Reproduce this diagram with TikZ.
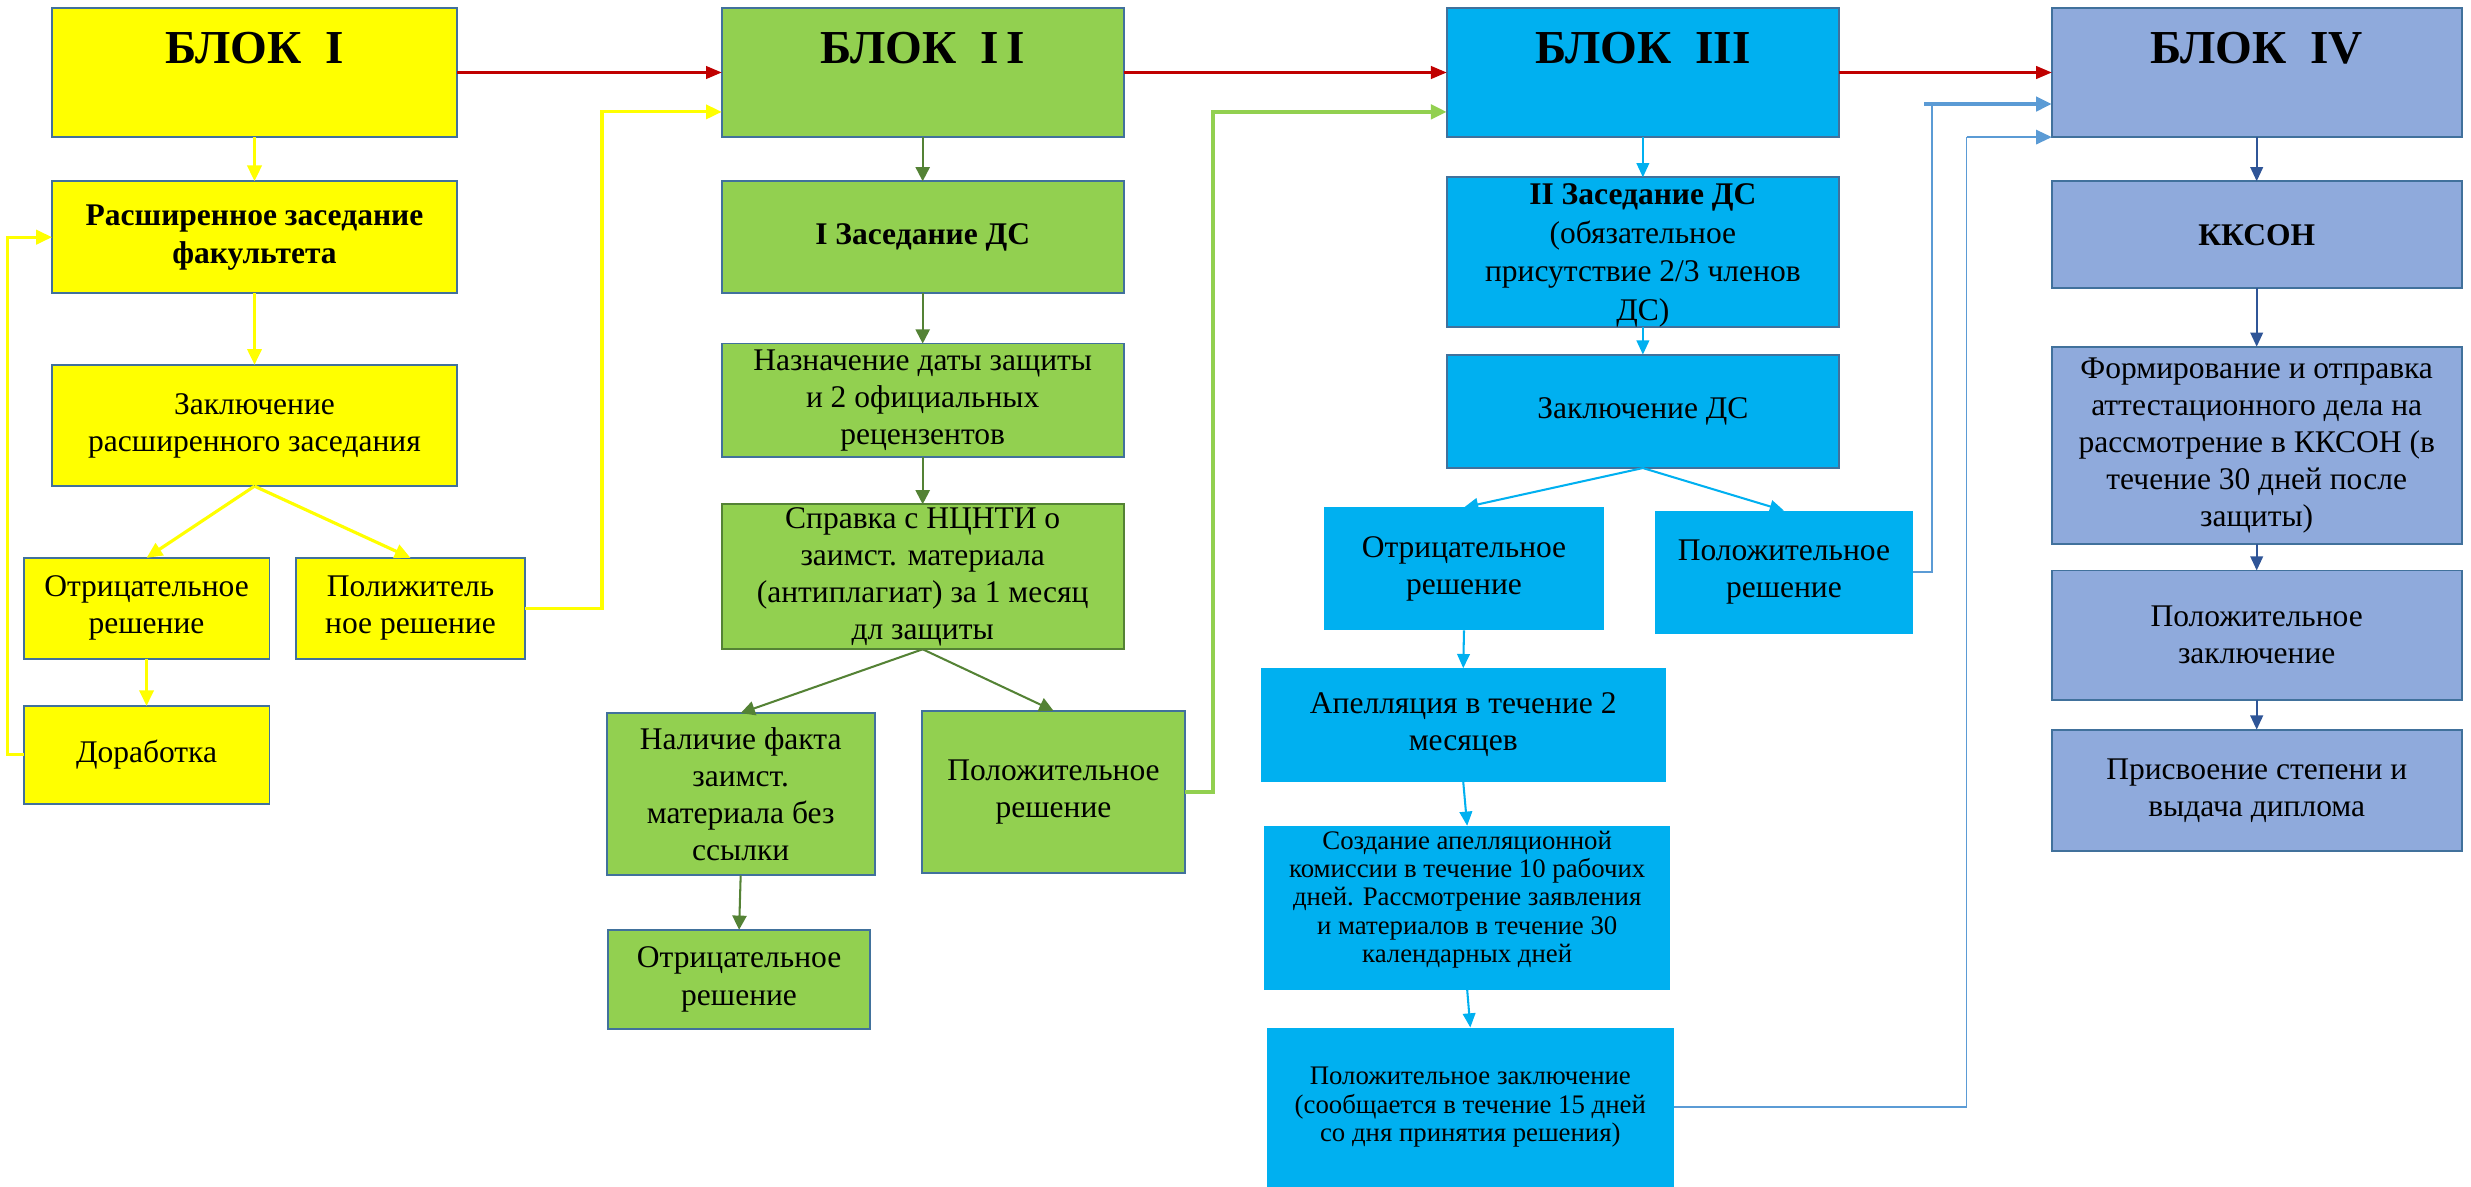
\documentclass[tikz,border=0pt]{standalone}
\usepackage{fontspec}
\setmainfont{Liberation Serif}
\usetikzlibrary{arrows.meta}

\definecolor{rama}{HTML}{41719C}
\definecolor{zhelt}{HTML}{FFFF00}
\definecolor{zelen}{HTML}{92D050}
\definecolor{temnozelen}{HTML}{548235}
\definecolor{golub}{HTML}{00B0F0}
\definecolor{sinij}{HTML}{8FAADC}
\definecolor{temnosinij}{HTML}{2F5597}
\definecolor{linija}{HTML}{5B9BD5}
\definecolor{krasn}{HTML}{C00000}

\begin{document}
\begin{tikzpicture}[x=1pt, y=-1pt,
    box/.style={draw=rama, line width=1.2pt, align=center, inner sep=1pt, outer sep=0pt,
                font=\fontsize{20}{23.5}\selectfont},
    blok/.style={box, font=\bfseries\fontsize{30}{34}\selectfont, text height=20pt, text depth=32pt},
    zhirn/.style={font=\bfseries\fontsize{20}{24}\selectfont},
    melk/.style={font=\fontsize{17}{18}\selectfont},
    zhstr/.style={draw=zhelt, line width=2pt, -{Triangle[length=10pt,width=9pt]}},
    krstr/.style={draw=krasn, line width=1.5pt, -{Triangle[length=10pt,width=8pt]}},
    zlstr/.style={draw=temnozelen, line width=1.3pt, -{Triangle[length=9pt,width=9pt]}},
    svzl/.style={draw=zelen, line width=2.5pt, -{Triangle[length=10pt,width=9pt]}},
    glstr/.style={draw=golub, line width=1.3pt, -{Triangle[length=9pt,width=8pt]}},
    snstr/.style={draw=temnosinij, line width=1.3pt, -{Triangle[length=9pt,width=8pt]}},
    tonk/.style={draw=linija, line width=0.8pt}]

    \useasboundingbox (0,0) rectangle (1568,753);

    % Блок I
    \node[blok, fill=zhelt, minimum width=257, minimum height=82] (b1) at (161.5,46) {БЛОК\ \ I};
    \node[box, zhirn, fill=zhelt, minimum width=257, minimum height=71] (b1a) at (161.5,150.5) {Расширенное заседание\\факультета};
    \node[box, fill=zhelt, minimum width=257, minimum height=77] (b1b) at (161.5,270) {Заключение\\расширенного заседания};
    \node[box, fill=zhelt, minimum width=156, minimum height=64] (b1c) at (93,386) {Отрицательное\\решение};
    \node[box, fill=zhelt, minimum width=145, minimum height=64] (b1d) at (260.5,386) {Полижитель\\ное решение};
    \node[box, fill=zhelt, minimum width=156, minimum height=62] (b1e) at (93,479) {Доработка};

    % Блок II
    \node[blok, fill=zelen, minimum width=255, minimum height=82] (b2) at (585.5,46) {БЛОК\ \ I\,I};
    \node[box, zhirn, fill=zelen, minimum width=255, minimum height=71] (b2a) at (585.5,150.5) {I Заседание ДС};
    \node[box, fill=zelen, minimum width=255, minimum height=72] (b2b) at (585.5,254) {Назначение даты защиты\\и 2 официальных\\рецензентов};
    \node[box, draw=temnozelen, fill=zelen, minimum width=255, minimum height=92] (b2c) at (585.5,366) {Справка с НЦНТИ о\\заимст. материала\\(антиплагиат) за 1 месяц\\дл защиты};
    \node[box, fill=zelen, minimum width=170, minimum height=103] (b2d) at (470,504) {Наличие факта\\заимст.\\материала без\\ссылки};
    \node[box, fill=zelen, minimum width=167, minimum height=103] (b2e) at (668.5,502.5) {Положительное\\решение};
    \node[box, fill=zelen, minimum width=166, minimum height=63] (b2f) at (469,621.5) {Отрицательное\\решение};

    % Блок III
    \node[blok, fill=golub, minimum width=249, minimum height=82] (b3) at (1042.5,46) {БЛОК\ \ III};
    \node[box, fill=golub, font=\fontsize{20}{24.5}\selectfont, text depth=0pt, minimum width=249, minimum height=95] (b3a) at (1042.5,160) {\textbf{II Заседание ДС}\\(обязательное\\присутствие 2/3 членов\\ДС)};
    \node[box, fill=golub, minimum width=249, minimum height=72] (b3b) at (1042.5,261) {Заключение ДС};
    \node[box, draw=none, fill=golub, minimum width=178, minimum height=78] (b3c) at (929,361) {Отрицательное\\решение};
    \node[box, draw=none, fill=golub, minimum width=164, minimum height=78] (b3d) at (1132,363) {Положительное\\решение};
    \node[box, draw=none, fill=golub, minimum width=257, minimum height=72] (b3e) at (928.5,460) {Апелляция в течение 2\\месяцев};
    \node[box, melk, draw=none, fill=golub, text depth=14pt, minimum width=258, minimum height=104] (b3f) at (931,576) {Создание апелляционной\\комиссии в течение 10 рабочих\\дней. Рассмотрение заявления\\и материалов в течение 30\\календарных дней};
    \node[box, melk, draw=none, fill=golub, minimum width=258, minimum height=101] (b3g) at (933,702.5) {Положительное заключение\\(сообщается в течение 15 дней\\со дня принятия решения)};

    % Блок IV
    \node[blok, fill=sinij, minimum width=260, minimum height=82] (b4) at (1432,46) {БЛОК\ \ IV};
    \node[box, zhirn, fill=sinij, minimum width=260, minimum height=68] (b4a) at (1432,149) {ККСОН};
    \node[box, fill=sinij, minimum width=260, minimum height=125] (b4b) at (1432,282.5) {Формирование и отправка\\аттестационного дела на\\рассмотрение в ККСОН (в\\течение 30 дней после\\защиты)};
    \node[box, fill=sinij, minimum width=260, minimum height=82] (b4c) at (1432,403) {Положительное\\заключение};
    \node[box, fill=sinij, minimum width=260, minimum height=77] (b4d) at (1432,501.5) {Присвоение степени и\\выдача диплома};

    % Переходы между блоками
    \draw[krstr] (b1.east) -- (b2.west);
    \draw[krstr] (b2.east) -- (b3.west);
    \draw[krstr] (b3.east) -- (b4.west);

    % Стрелки внутри блоков
    \foreach \a/\b in {b1/b1a, b1a/b1b, b1b/b1c, b1b/b1d, b1c/b1e}
        \draw[zhstr] (\a.south) -- (\b.north);
    \foreach \a/\b in {b2/b2a, b2a/b2b, b2b/b2c, b2c/b2d, b2c/b2e, b2d/b2f}
        \draw[zlstr] (\a.south) -- (\b.north);
    \foreach \a/\b in {b3/b3a, b3a/b3b, b3b/b3c, b3b/b3d, b3c/b3e, b3e/b3f, b3f/b3g}
        \draw[glstr] (\a.south) -- (\b.north);
    \foreach \a/\b in {b4/b4a, b4a/b4b, b4b/b4c, b4c/b4d}
        \draw[snstr] (\a.south) -- (\b.north);

    % Обратная связь и выходы
    \coordinate (yl) at (5,150.5);
    \coordinate (yr) at (382,71);
    \coordinate (gr) at (770,71);
    \coordinate (q1) at (1226,66);
    \coordinate (q2) at (1248,87);
    \draw[zhstr] (b1e.west) -| (yl) -- (b1a.west);
    \draw[zhstr] (b1d.east) -| (yr) -- (b2.west |- yr);
    \draw[svzl] (b2e.east) -| (gr) -- (b3.west |- gr);
    \draw[tonk] (b3d.east) -| (q1);
    \draw[tonk, line width=2.4pt, -{Triangle[length=10pt,width=9pt]}] (q1) ++(-5,0) -- (b4.west |- q1);
    \draw[tonk] (b3g.east) -| (q2);
    \draw[tonk, line width=1.6pt, -{Triangle[length=10pt,width=9pt]}] (q2) -- (b4.west |- q2);
\end{tikzpicture}
\end{document}
